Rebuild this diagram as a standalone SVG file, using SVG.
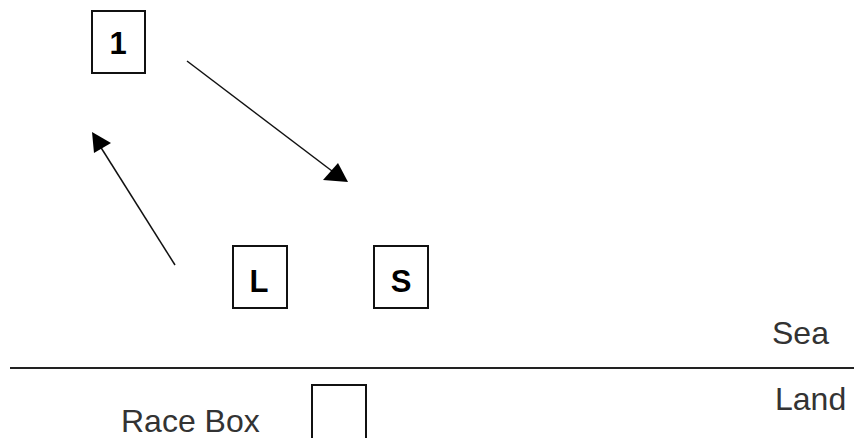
<svg xmlns="http://www.w3.org/2000/svg" width="854" height="438" viewBox="0 0 854 438">
<style>
.box{fill:#fff;stroke:#111;stroke-width:2}
.lbl{font-family:"Liberation Sans",Arial,sans-serif;font-weight:bold;font-size:31px;fill:#000;text-anchor:middle}
.txt{font-family:"Liberation Sans",Arial,sans-serif;font-size:32px;fill:#333}
.conn{stroke:#111;stroke-width:1.5;fill:none}
</style>
<rect width="854" height="438" fill="#fff"/>
<g id="node-1"><rect class="box" x="92" y="11" width="53" height="62"/><text class="lbl" x="118" y="54">1</text></g>
<g id="node-L"><rect class="box" x="233" y="246" width="54" height="62"/><text class="lbl" x="259" y="292">L</text></g>
<g id="node-S"><rect class="box" x="374" y="246" width="54" height="62"/><text class="lbl" x="401" y="292">S</text></g>
<g id="race-box"><rect class="box" x="312" y="385" width="54" height="62"/><text class="txt" x="121" y="432">Race Box</text></g>
<g id="shoreline"><line x1="10" y1="368" x2="854" y2="368" stroke="#222" stroke-width="2"/><text class="txt" x="772" y="344">Sea</text><text class="txt" x="775" y="410">Land</text></g>
<g id="connectors">
<line class="conn" x1="187" y1="61" x2="332" y2="171"/>
<polygon points="348,182 323,180 338,163" fill="#000"/>
<line class="conn" x1="175" y1="265" x2="100" y2="146"/>
<polygon points="92,132 111,143 94,153" fill="#000"/>
</g>
</svg>
